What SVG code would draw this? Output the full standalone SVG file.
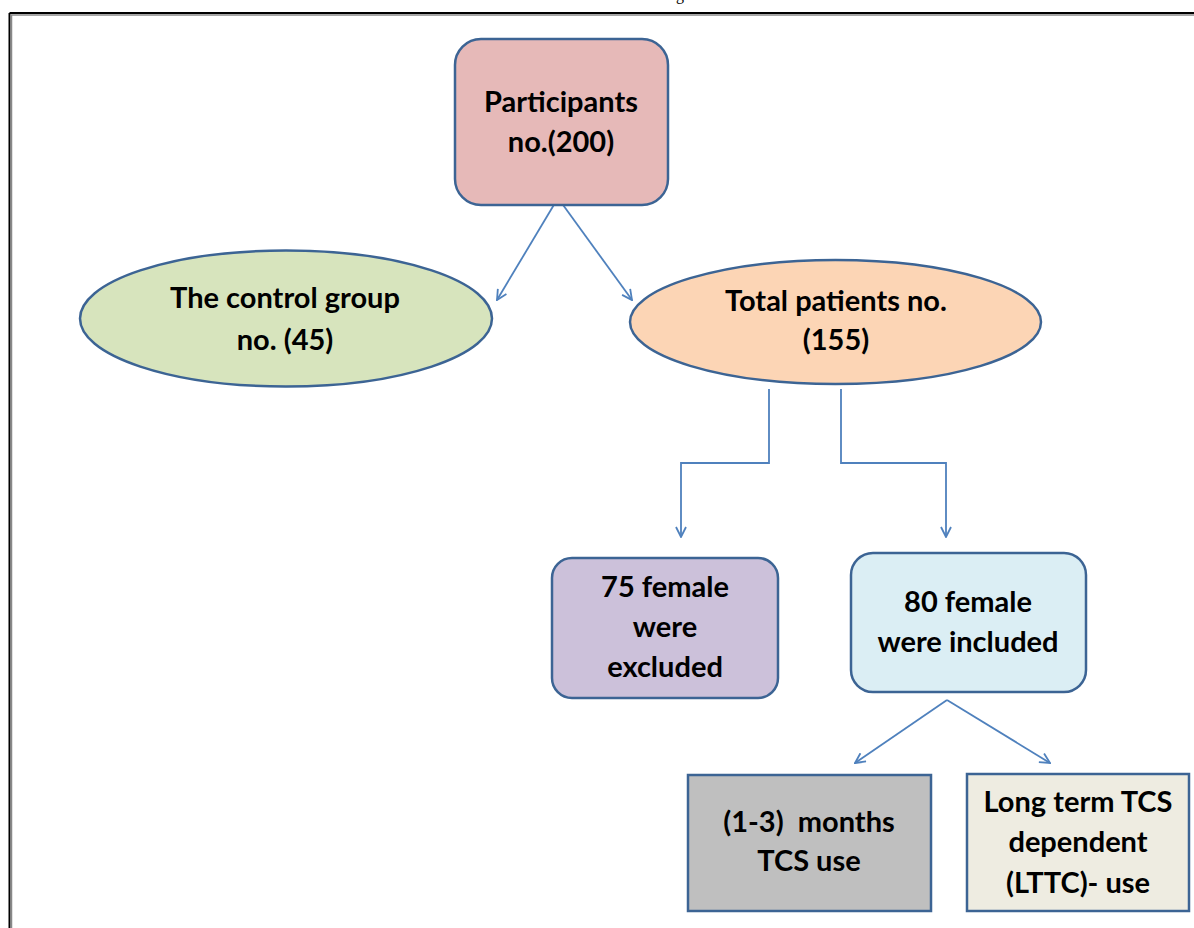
<svg xmlns="http://www.w3.org/2000/svg" width="1194" height="928" viewBox="0 0 1194 928">
<style>
.node{stroke:#3c6494;stroke-width:2.5}
.t{font-family:Lato,"Liberation Sans",sans-serif;font-weight:700;font-size:29px;fill:#000;text-anchor:middle;white-space:pre}
.c{fill:none;stroke:#4f81bd;stroke-width:1.8}
</style>
<defs>
<marker id="ah" viewBox="0 0 12 12" refX="11" refY="6" markerWidth="12" markerHeight="12" markerUnits="userSpaceOnUse" orient="auto">
<path d="M1,1 L11,6 L1,11" fill="none" stroke="#4f81bd" stroke-width="1.8"/>
</marker>
</defs>
<rect width="1194" height="928" fill="#fff"/>
<text x="680" y="0" style="font-family:'Liberation Serif',serif;font-size:16px" text-anchor="middle">g</text>
<g id="frame">
<line x1="9.5" y1="13" x2="1194" y2="13" stroke="#000" stroke-width="2"/>
<line x1="9.5" y1="13" x2="9.5" y2="928" stroke="#000" stroke-width="2"/>
<line x1="11" y1="15" x2="1194" y2="15" stroke="#888" stroke-width="1.5"/>
<line x1="11.5" y1="15" x2="11.5" y2="928" stroke="#888" stroke-width="1.5"/>
</g>
<g id="connectors">
<line class="c" x1="558" y1="198" x2="497" y2="300" marker-end="url(#ah)"/>
<line class="c" x1="558" y1="198" x2="632" y2="300" marker-end="url(#ah)"/>
<polyline class="c" points="769,389 769,463 681,463 681,537" marker-end="url(#ah)"/>
<polyline class="c" points="841,389 841,463 946,463 946,537" marker-end="url(#ah)"/>
<line class="c" x1="947" y1="700" x2="855" y2="763" marker-end="url(#ah)"/>
<line class="c" x1="947" y1="700" x2="1050" y2="763" marker-end="url(#ah)"/>
</g>
<g id="participants">
<rect class="node" x="455" y="39" width="213" height="166" rx="26" fill="#e6b9b8"/>
<text class="t" x="561" y="112">Participants</text>
<text class="t" x="561" y="152">no.(200)</text>
</g>
<g id="control">
<ellipse class="node" cx="286" cy="318.5" rx="206" ry="68" fill="#d7e4bd"/>
<text class="t" x="285" y="308">The control group</text>
<text class="t" x="285" y="350">no. (45)</text>
</g>
<g id="total">
<ellipse class="node" cx="835.5" cy="322" rx="205.5" ry="62" fill="#fcd5b5"/>
<text class="t" x="836" y="311">Total patients no.</text>
<text class="t" x="836" y="350">(155)</text>
</g>
<g id="excluded">
<rect class="node" x="552" y="558" width="226" height="140" rx="20" fill="#ccc1da"/>
<text class="t" x="665" y="597">75 female</text>
<text class="t" x="665" y="637">were</text>
<text class="t" x="665" y="677">excluded</text>
</g>
<g id="included">
<rect class="node" x="851" y="553" width="235" height="139" rx="22" fill="#dbeef4"/>
<text class="t" x="968" y="612">80 female</text>
<text class="t" x="968" y="652">were included</text>
</g>
<g id="short">
<rect class="node" x="688" y="775" width="243" height="136" fill="#bfbfbf"/>
<text class="t" x="809" y="832">(1-3)  months</text>
<text class="t" x="809" y="871">TCS use</text>
</g>
<g id="long">
<rect class="node" x="967" y="774" width="222" height="137" fill="#eeece1"/>
<text class="t" x="1078" y="812">Long term TCS</text>
<text class="t" x="1078" y="852">dependent</text>
<text class="t" x="1078" y="893">(LTTC)- use</text>
</g>
</svg>
